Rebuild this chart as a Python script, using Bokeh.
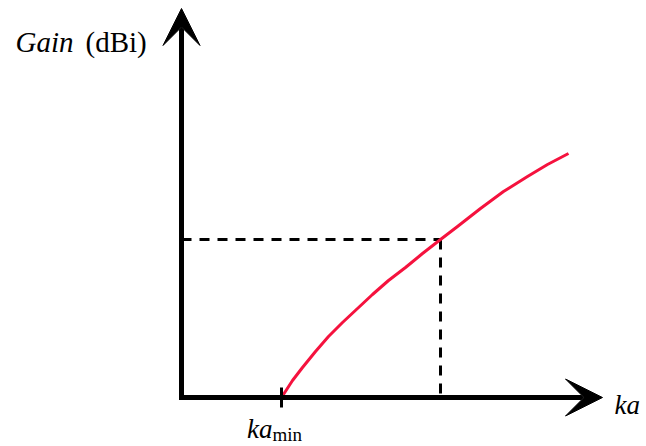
from bokeh.plotting import figure
from bokeh.models import Range1d, Arrow, VeeHead
from bokeh.core.properties import value
from bokeh.embed import file_html
from bokeh.resources import INLINE

# Data (arbitrary units: ka along x, gain along y)
ka = [1.00, 1.11, 1.21, 1.34, 1.47, 1.61, 1.76, 1.91, 2.07, 2.24, 2.41, 2.59,
      2.76, 2.99, 3.22, 3.46, 3.66, 3.87]
gain = [0.00, 0.17, 0.30, 0.46, 0.61, 0.75, 0.89, 1.03, 1.17, 1.30, 1.44, 1.58,
        1.71, 1.89, 2.06, 2.21, 2.33, 2.44]
ka_min = 1.00
ka_mark = 2.59
gain_mark = 1.58
x_axis_end = 4.21
y_axis_end = 3.89

FONT = "Liberation Serif"

W, H = 646, 446
p = figure(width=W, height=H, output_backend="svg", toolbar_location=None,
           x_range=Range1d(-1.81, 4.65), y_range=Range1d(-0.49, 3.97),
           min_border=0)
p.axis.visible = False
p.grid.visible = False
p.outline_line_color = None
p.background_fill_color = "white"

def px(X):
    return (X - 181) / 100

def py(Y):
    return (397 - Y) / 100

# dashed guide lines
p.line([0, ka_mark], [gain_mark, gain_mark], line_color="black", line_width=3,
       line_dash="10 8")
p.line([ka_mark, ka_mark], [gain_mark, 0], line_color="black", line_width=3,
       line_dash="10 8")

# curve
p.line(ka, gain, line_color="#f5123e", line_width=3, line_join="round")

# axes with arrow heads
p.add_layout(Arrow(end=VeeHead(size=37, fill_color="black", line_color="black", line_width=1),
                   x_start=-0.025, y_start=0, x_end=x_axis_end, y_end=0,
                   line_width=5, line_color="black"))
p.add_layout(Arrow(end=VeeHead(size=37, fill_color="black", line_color="black", line_width=1),
                   x_start=0, y_start=-0.025, x_end=0, y_end=y_axis_end,
                   line_width=5, line_color="black"))

# tick at ka_min
p.segment(x0=[ka_min], y0=[0.10], x1=[ka_min], y1=[-0.10], line_color="black", line_width=3)

# labels
p.text(x=[px(15)], y=[py(41)], text=["Gain"], text_font=value(FONT),
       text_font_size="29px", text_font_style="italic", text_baseline="alphabetic",
       text_align="left", text_color="black")
p.text(x=[px(85)], y=[py(41)], text=["(dBi)"], text_font=value(FONT),
       text_font_size="29px", text_baseline="alphabetic",
       text_align="left", text_color="black")
p.text(x=[px(614)], y=[py(404)], text=["ka"], text_font=value(FONT),
       text_font_size="27px", text_font_style="italic", text_baseline="alphabetic",
       text_align="left", text_color="black")
p.text(x=[px(272)], y=[py(428)], text=["ka"], text_font=value(FONT),
       text_font_size="27px", text_font_style="italic", text_baseline="alphabetic",
       text_align="right", text_color="black")
p.text(x=[px(272)], y=[py(434)], text=["min"], text_font=value(FONT),
       text_font_size="19px", text_baseline="alphabetic",
       text_align="left", text_color="black")

open("out.html", "w").write(file_html(p, INLINE))
